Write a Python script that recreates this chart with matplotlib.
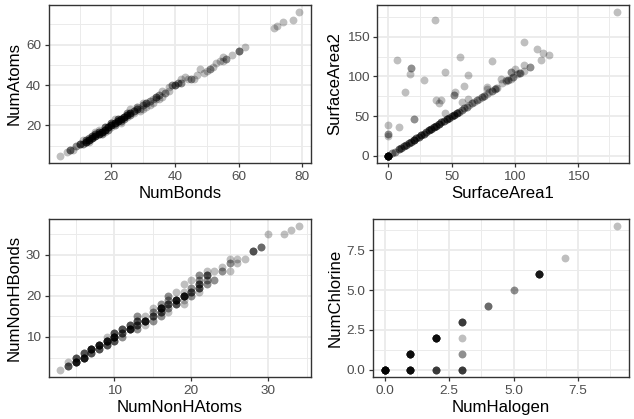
import numpy as np
import matplotlib
matplotlib.use("Agg")
import matplotlib.pyplot as plt
from matplotlib.ticker import FixedLocator

plt.rcParams['font.family'] = ['Liberation Sans', 'DejaVu Sans']

# ---------------- data (x, y, number of overlapping points) ----------------
bonds = [4, 6, 7, 9, 10, 11, 12, 12, 13, 13, 14, 14, 15, 15, 16, 16, 17, 17, 18, 18,
         19, 19, 20, 20, 21, 21, 22, 22, 23, 23, 24, 24, 25, 25, 26, 26, 27, 27, 28, 28,
         29, 30, 30, 31, 31, 32, 33, 33, 34, 35, 35, 36, 37, 38, 38, 39, 40, 41, 42, 43,
         42, 45, 46, 48, 49, 51, 52, 54, 55, 55, 56, 58, 60, 62, 71, 72, 74, 77, 79,
         8, 11, 13, 16, 18, 21, 23, 26, 29, 32, 34, 36, 15, 20, 25, 30, 44, 47, 50, 53]
atoms = [5, 7, 8, 10, 11, 11, 12, 13, 13, 14, 14, 15, 15, 16, 16, 17, 17, 16, 18, 19,
         19, 18, 20, 21, 21, 20, 22, 23, 23, 22, 24, 23, 25, 26, 26, 25, 27, 26, 28, 29,
         28, 30, 31, 31, 29, 32, 33, 31, 34, 35, 33, 37, 36, 37, 39, 40, 40, 41, 43, 44,
         41, 43, 43, 48, 46, 48, 49, 52, 54, 52, 53, 55, 57, 59, 68, 69, 71, 72, 76,
         8, 13, 12, 18, 17, 23, 21, 28, 27, 30, 33, 34, 17, 19, 24, 28, 43, 45, 47, 51]
atoms_n = [1, 1, 3, 2, 4, 2, 5, 3, 5, 2, 5, 3, 5, 3, 5, 3, 5, 2, 5, 3,
           5, 2, 5, 3, 5, 2, 5, 3, 5, 2, 5, 2, 4, 2, 4, 2, 3, 1, 3, 2,
           1, 2, 1, 3, 1, 2, 1, 1, 3, 2, 1, 1, 2, 1, 1, 2, 3, 2, 1, 1,
           2, 2, 1, 1, 1, 2, 1, 1, 1, 1, 2, 1, 3, 1, 1, 1, 1, 1, 1,
           1, 1, 1, 1, 1, 1, 1, 1, 1, 1, 1, 1, 1, 1, 1, 1, 1, 1, 1, 1]

sa1 = [0, 3, 5, 8, 10, 12, 14, 16, 18, 20, 22, 24, 26, 28, 30, 32, 34, 36, 38, 40,
       42, 44, 46, 48, 50, 52, 54, 56, 58, 60, 62, 64, 66, 68, 70, 72, 74, 76, 78, 80,
       82, 84, 86, 90, 93, 95, 97, 99, 102, 104, 107, 112, 121,
       0, 0, 0, 8, 13, 20, 38, 40, 42, 45, 52, 53, 58, 63, 60, 63, 57, 45, 37, 28,
       17, 18, 6.5, 82, 107, 118, 122, 127, 107, 100, 97, 103, 93, 89, 181, 78, 78, 85]
sa2 = [0, 3, 5, 8, 10, 12, 14, 16, 18, 20, 22, 24, 26, 28, 30, 32, 34, 36, 38, 40,
       42, 44, 46, 48, 50, 52, 54, 55, 58, 60, 62, 64, 66, 68, 70, 72, 74, 76, 78, 80,
       82, 84, 86, 92, 94, 95, 97, 99, 103, 104, 107, 112, 121,
       39, 28, 25, 36, 80, 46, 70, 67, 70, 54, 77, 80, 68, 72, 88, 102, 125, 106, 171, 95,
       103, 111, 121, 119, 144, 135, 130, 127, 115, 110, 106, 104, 95, 97, 181, 84, 87, 85]
sa_n = [15, 2, 2, 3, 3, 3, 3, 3, 3, 5, 3, 3, 4, 3, 3, 4, 4, 4, 4, 4,
        3, 3, 4, 3, 3, 4, 4, 2, 2, 2, 2, 1, 2, 1, 2, 1, 2, 2, 1, 1,
        2, 2, 1, 1, 1, 2, 1, 2, 1, 2, 1, 2, 1,
        1, 2, 1, 1, 1, 2, 1, 1, 1, 1, 2, 1, 1, 1, 1, 1, 1, 1, 1, 1,
        1, 2, 1, 1, 1, 1, 1, 1, 1, 1, 2, 1, 1, 1, 1, 1, 1, 1]

nonh_atoms = [3, 4, 4, 5, 5, 6, 6, 7, 7, 8, 8, 9, 9, 9, 10, 10, 10, 11, 11, 11,
              12, 12, 13, 13, 13, 13, 14, 14, 14, 15, 15, 15, 15, 16, 16, 16, 16,
              17, 17, 17, 17, 17, 18, 18, 18, 19, 19, 19, 19, 19, 20, 20, 20, 20,
              21, 21, 21, 21, 21, 22, 22, 22, 22, 23, 23, 24, 24, 25, 25, 25, 26, 26,
              27, 28, 29, 30, 32, 33, 34]
nonh_bonds = [2, 3, 4, 4, 5, 5, 6, 6, 7, 7, 8, 8, 9, 10, 9, 10, 11, 10, 11, 12,
              12, 13, 12, 13, 14, 15, 13, 14, 15, 14, 15, 16, 17, 15, 16, 17, 18,
              16, 17, 18, 19, 20, 18, 19, 21, 18, 19, 20, 21, 23, 20, 21, 22, 24,
              21, 22, 23, 24, 25, 23, 24, 25, 26, 24, 26, 26, 27, 26, 28, 29, 28, 29,
              29, 31, 32, 35, 35, 36, 37]
nonh_n = [1, 4, 1, 8, 4, 8, 4, 4, 8, 4, 8, 4, 8, 1, 4, 8, 4, 2, 4, 4,
          8, 4, 2, 4, 4, 2, 1, 8, 1, 2, 4, 2, 1, 2, 4, 8, 2,
          1, 2, 4, 2, 2, 4, 8, 1, 1, 1, 8, 1, 1, 2, 4, 2, 1,
          1, 4, 4, 2, 2, 2, 2, 4, 1, 2, 1, 2, 1, 1, 2, 1, 1, 1,
          1, 4, 3, 1, 1, 1, 1]

halogen = [0, 1, 1, 2, 2, 3, 3, 3, 3, 4, 5, 6, 7, 9]
chlorine = [0, 0, 1, 0, 2, 0, 1, 2, 3, 4, 5, 6, 7, 9]
hal_n = [15, 10, 10, 5, 10, 5, 2, 1, 5, 3, 2, 8, 1, 1]

W, H = 634, 419
fig = plt.figure(figsize=(W / 100, H / 100), dpi=100)


def add_panel(px_left, px_right, px_top, px_bottom):
    return fig.add_axes([px_left / W, 1 - px_bottom / H,
                         (px_right - px_left) / W, (px_bottom - px_top) / H])


def style(ax, xmaj, ymaj, xlabels, ylabels, xlab, ylab, x, y):
    x = np.asarray(x, float)
    y = np.asarray(y, float)
    xr = x.max() - x.min()
    yr = y.max() - y.min()
    ax.set_xlim(x.min() - 0.05 * xr, x.max() + 0.05 * xr)
    ax.set_ylim(y.min() - 0.05 * yr, y.max() + 0.05 * yr)
    ax.set_xticks(xmaj)
    ax.set_xticklabels(xlabels)
    ax.set_yticks(ymaj)
    ax.set_yticklabels(ylabels)
    dx = xmaj[1] - xmaj[0]
    dy = ymaj[1] - ymaj[0]
    xmin = np.arange(xmaj[0] - dx / 2, xmaj[-1] + dx, dx)
    ymin = np.arange(ymaj[0] - dy / 2, ymaj[-1] + dy, dy)
    ax.xaxis.set_minor_locator(FixedLocator(xmin))
    ax.yaxis.set_minor_locator(FixedLocator(ymin))
    ax.grid(which='major', color='#EBEBEB', linewidth=1.3, zorder=0)
    ax.grid(which='minor', color='#EBEBEB', linewidth=0.7, zorder=0)
    ax.set_axisbelow(True)
    ax.tick_params(which='major', length=3.0, width=0.9, color='#333333',
                   labelsize=9.7, labelcolor='#4D4D4D', pad=2.4)
    ax.tick_params(which='minor', length=0)
    for s in ax.spines.values():
        s.set_color('#333333')
        s.set_linewidth(1.0)
    ax.set_xlabel(xlab, fontsize=12.1, color='black', labelpad=2.5)
    ax.set_ylabel(ylab, fontsize=12.1, color='black', labelpad=3.0)


def scatter(ax, x, y, n):
    xs = np.repeat(np.asarray(x, float), n)
    ys = np.repeat(np.asarray(y, float), n)
    ax.scatter(xs, ys, s=32, c='black', alpha=0.25, linewidths=0, zorder=3)


ax1 = add_panel(48.5, 311, 5, 163)
scatter(ax1, bonds, atoms, atoms_n)
style(ax1, [20, 40, 60, 80], [20, 40, 60], ['20', '40', '60', '80'], ['20', '40', '60'],
      'NumBonds', 'NumAtoms', bonds, atoms)

ax2 = add_panel(377, 628.5, 5, 163)
scatter(ax2, sa1, sa2, sa_n)
style(ax2, [0, 50, 100, 150], [0, 50, 100, 150], ['0', '50', '100', '150'],
      ['0', '50', '100', '150'], 'SurfaceArea1', 'SurfaceArea2', sa1, sa2)

ax3 = add_panel(48.5, 311, 219, 377)
scatter(ax3, nonh_atoms, nonh_bonds, nonh_n)
style(ax3, [10, 20, 30], [10, 20, 30], ['10', '20', '30'], ['10', '20', '30'],
      'NumNonHAtoms', 'NumNonHBonds', nonh_atoms, nonh_bonds)

ax4 = add_panel(373, 628.5, 219, 377)
scatter(ax4, halogen, chlorine, hal_n)
style(ax4, [0, 2.5, 5, 7.5], [0, 2.5, 5, 7.5], ['0.0', '2.5', '5.0', '7.5'],
      ['0.0', '2.5', '5.0', '7.5'], 'NumHalogen', 'NumChlorine', halogen, chlorine)

fig.savefig('out.png', dpi=100)
